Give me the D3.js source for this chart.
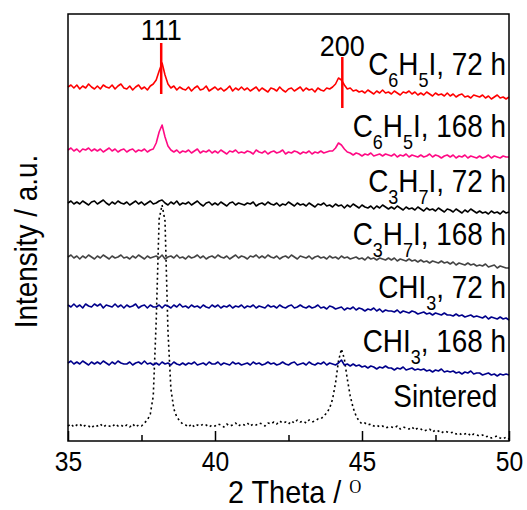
<!DOCTYPE html>
<meta charset="utf-8">
<style>
body { margin: 0; background: #fff; }
text { font-family: "Liberation Sans", Arial, sans-serif; fill: #000; }
.frame { fill: none; stroke: #000; stroke-width: 1.5px; }
.axis path { display: none; }
.axis line { stroke: #000; stroke-width: 1.5px; }
.trace { fill: none; stroke-width: 1.6px; stroke-linejoin: round; }
</style>
<body>
<div id="chart"></div>
<script src="https://cdn.jsdelivr.net/npm/d3@7"></script>
<script>
// 2 theta grid, 35..50 every 0.1 deg
var twoTheta = d3.range(151).map(function (i) { return +(35 + i / 10).toFixed(1); });

var names = ["C6H5I, 72 h", "C6H5I, 168 h", "C3H7I, 72 h", "C3H7I, 168 h", "CHI3, 72 h", "CHI3, 168 h", "Sintered"];
var colors = ["#ff0000", "#ff0a84", "#000000", "#444444", "#00008b", "#00008b", "#000000"];
var offsets = [354, 291, 238, 184, 135, 78, 15];

var c6h5i72 = [
  0,2,-1,2,-2,1,-1,3,0,-2,
  1,-2,2,0,-1,2,-2,1,3,-1,
  -2,1,-3,0,2,-2,0,-3,1,3,
  7,16,24,12,3,-1,1,-3,0,-2,
  -3,0,-4,-1,1,-3,-2,1,-4,-2,
  0,-3,-1,-4,-2,1,-4,-1,-3,0,
  -3,-1,-4,-2,0,-4,-1,-3,-5,-1,
  -2,-4,0,-3,-5,-2,-1,-4,-2,0,
  -4,-1,-3,-2,-5,-1,-3,-4,-1,-2,
  0,3,9,7,2,-2,-1,-4,-3,-5,
  -4,-6,-3,-5,-7,-4,-6,-3,-6,-5,
  -7,-4,-6,-8,-5,-6,-4,-7,-5,-8,
  -6,-8,-5,-7,-9,-6,-8,-7,-9,-6,
  -9,-7,-10,-8,-7,-10,-9,-11,-8,-9,
  -10,-8,-11,-9,-12,-10,-8,-11,-10,-12,
  -10];

var c6h5i168 = [
  0,2,-1,1,-2,1,0,2,-1,1,
  -1,1,-2,0,2,-1,1,-2,0,1,
  -2,0,1,-2,0,-1,1,-2,0,1,
  7,18,25,13,4,0,-2,0,-3,-1,
  -2,0,-3,-1,1,-3,-1,-2,0,-3,
  -1,-3,0,-2,-4,-1,-2,0,-3,-2,
  -3,-1,-2,-4,0,-2,-3,-1,-4,-2,
  -1,-3,-2,0,-4,-2,-3,-1,-2,-4,
  -2,-3,-1,-4,-2,-3,-1,-3,-2,-1,
  -1,2,7,5,1,-2,-3,-5,-3,-4,
  -6,-4,-5,-3,-6,-5,-4,-6,-4,-5,
  -6,-4,-7,-5,-6,-4,-7,-5,-6,-7,
  -5,-7,-6,-4,-7,-5,-6,-8,-6,-5,
  -7,-5,-8,-6,-7,-5,-8,-6,-7,-8,
  -6,-8,-7,-5,-8,-6,-7,-8,-6,-7,
  -7];

var c3h7i72 = [
  0,2,-1,1,-1,2,0,-2,1,2,
  -1,1,3,0,-2,1,-1,2,0,-1,
  1,-2,0,2,-1,1,-2,0,2,-1,
  0,2,3,0,-2,1,-1,2,-2,0,
  -1,1,-2,0,2,-1,-3,0,1,-2,
  0,-2,1,-1,-3,0,1,-2,0,-1,
  -2,0,-1,1,-3,-1,0,-2,1,-1,
  -2,0,-3,-1,-2,1,-1,-3,0,-2,
  -1,-3,0,-2,-4,-1,-2,0,-3,-2,
  -4,-1,-3,-2,-5,-2,-4,-1,-3,-5,
  -2,-4,-5,-3,-6,-3,-5,-2,-4,-6,
  -4,-6,-3,-5,-7,-4,-6,-5,-7,-4,
  -6,-8,-5,-7,-6,-8,-5,-7,-9,-6,
  -7,-9,-6,-8,-10,-7,-9,-6,-8,-10,
  -8,-10,-9,-11,-8,-10,-9,-11,-8,-10,
  -9];

var c3h7i168 = [
  0,2,-1,1,-2,1,-1,2,0,-2,
  1,-1,2,0,-2,1,-1,0,2,-1,
  0,-2,1,-1,2,0,-2,1,-1,0,
  1,-1,2,-2,0,1,-1,2,-1,0,
  -2,1,-1,0,2,-1,1,-2,0,1,
  -1,2,0,-1,1,-2,0,2,-1,1,
  0,-2,1,0,2,-1,1,-1,2,0,
  -1,1,-2,0,1,-1,2,0,-2,1,
  0,-1,1,-2,0,1,-1,0,-2,1,
  -1,0,-2,1,-1,0,-2,-1,0,-2,
  -1,-3,0,-2,-1,-3,-1,-2,-3,-1,
  -3,-1,-4,-2,-3,-4,-2,-4,-3,-5,
  -3,-5,-4,-6,-4,-5,-6,-4,-6,-5,
  -7,-5,-8,-6,-7,-8,-6,-8,-7,-9,
  -8,-9,-7,-10,-9,-8,-11,-9,-10,-11,
  -11];

var chi372 = [
  1,-1,2,-1,1,-2,2,0,-1,2,
  0,2,-2,1,0,-1,2,-1,1,-2,
  1,-1,0,2,-2,0,1,-2,1,-1,
  -1,1,-2,1,0,-2,1,-1,2,-1,
  0,-2,1,-1,0,-2,1,-1,-2,1,
  -1,1,-2,0,-1,1,-2,0,-1,1,
  -2,0,-1,1,-2,0,-1,-2,1,-1,
  0,-2,1,-1,-2,0,1,-2,-1,1,
  -1,-2,0,-2,-1,1,-2,-1,-3,0,
  -1,-3,-2,-1,-4,-2,-3,-1,-4,-2,
  -3,-5,-3,-4,-2,-5,-3,-6,-4,-5,
  -5,-6,-4,-7,-5,-6,-7,-5,-6,-8,
  -7,-6,-8,-7,-9,-7,-8,-9,-7,-9,
  -9,-10,-8,-10,-9,-11,-10,-9,-11,-10,
  -11,-12,-10,-13,-11,-12,-13,-11,-13,-12,
  -14];

var chi3168 = [
  0,2,-1,1,-1,2,0,-2,1,-1,
  1,-1,2,0,-2,1,-1,2,0,-1,
  -1,1,-2,0,1,-1,2,-1,0,-2,
  0,-2,1,-1,0,-2,1,-1,-2,0,
  -2,0,-1,1,-2,-1,0,-2,1,-1,
  -1,1,-2,0,-1,-2,1,-1,0,-2,
  -1,0,-2,1,-1,0,-2,-1,1,-1,
  0,-2,-1,1,-1,-2,0,1,-2,-1,
  0,-2,1,-1,-2,0,-1,1,-2,0,
  -1,-2,0,3,-2,-1,-3,-1,-3,-2,
  -4,-3,-5,-3,-4,-6,-4,-5,-3,-5,
  -5,-7,-5,-6,-4,-7,-6,-5,-7,-6,
  -7,-6,-8,-7,-9,-7,-8,-6,-9,-8,
  -9,-8,-10,-9,-11,-9,-10,-8,-11,-10,
  -10,-12,-11,-10,-12,-11,-13,-11,-12,-11,
  -12];

var sintered = [
  0,2,-1,1,2,-1,1,0,-2,1,
  0,2,-1,1,0,-1,2,0,1,-1,
  1,-1,2,-1,1,0,3,6,12,30,
  105,207,221,205,95,37,17,9,5,2,
  1,-1,2,-1,1,0,2,1,-1,1,
  0,2,1,-1,2,0,1,3,0,2,
  1,3,0,2,1,3,2,0,3,2,
  4,2,5,3,4,2,5,3,6,4,
  5,3,6,4,5,7,7,10,13,18,
  27,43,65,77,67,47,30,18,10,5,
  2,3,1,2,0,1,-1,0,-2,-1,
  -1,-2,0,-3,-1,-2,-3,-1,-4,-2,
  -3,-5,-4,-3,-6,-4,-5,-7,-5,-6,
  -7,-6,-8,-7,-9,-8,-7,-10,-8,-9,
  -10,-9,-11,-10,-12,-11,-10,-12,-13,-11,
  -13];

var seriesValues = [c6h5i72, c6h5i168, c3h7i72, c3h7i168, chi372, chi3168, sintered];

// label text pieces, second item 1 = subscript
var labelParts = [
  [["C"], ["6", 1], ["H"], ["5", 1], ["I, 72 h"]],
  [["C"], ["6", 1], ["H"], ["5", 1], ["I, 168 h"]],
  [["C"], ["3", 1], ["H"], ["7", 1], ["I, 72 h"]],
  [["C"], ["3", 1], ["H"], ["7", 1], ["I, 168 h"]],
  [["CHI"], ["3", 1], [", 72 h"]],
  [["CHI"], ["3", 1], [", 168 h"]],
  [["Sintered"]]
];
var labelX = [49.9, 49.9, 49.9, 49.9, 49.9, 49.9, 49.6];
var labelY = [366, 304, 249, 196, 143, 89, 34];

// reflection markers
var peakLabels = ["111", "200"];
var peakPos = [38.17, 44.33];
var peakTop = [398, 384];
var peakBottom = [347, 333];
var peakLabelY = [401, 385];

var xTicks = [35, 40, 45, 50];
var xMinorTicks = [37.5, 42.5, 47.5];

var margin = {top: 14, right: 18, bottom: 69, left: 68},
    width = 527 - margin.left - margin.right,
    height = 510 - margin.top - margin.bottom;

var squeeze = " scale(0.9,1)";

var svg = d3.select("#chart").append("svg")
    .attr("width", 527)
    .attr("height", 510)
  .append("g")
    .attr("transform", "translate(" + margin.left + "," + margin.top + ")");

var x = d3.scaleLinear().domain([35, 50]).range([0, width]);
var y = d3.scaleLinear().domain([0, 427]).range([height, 0]);

var line = d3.line()
    .x(function (d) { return x(d[0]); })
    .y(function (d) { return y(d[1]); });

// draw bottom trace first so the others sit on top of its peak
d3.range(seriesValues.length).reverse().forEach(function (s) {
  var pts = twoTheta.map(function (t, i) { return [t, offsets[s] + seriesValues[s][i]]; });
  svg.append("path")
      .datum(pts)
      .attr("class", "trace")
      .attr("d", line)
      .style("stroke", colors[s])
      .style("stroke-dasharray", s === 6 ? "2,3" : null);
});

// markers
peakPos.forEach(function (p, i) {
  svg.append("line")
      .attr("x1", x(p)).attr("x2", x(p))
      .attr("y1", y(peakTop[i])).attr("y2", y(peakBottom[i]))
      .style("stroke", "#ff0000")
      .style("stroke-width", "2.5px");
  svg.append("text")
      .attr("transform", "translate(" + x(p) + "," + y(peakLabelY[i]) + ")" + squeeze)
      .attr("text-anchor", "middle")
      .style("font-size", "30px")
      .text(peakLabels[i]);
});

// sample labels
labelParts.forEach(function (parts, i) {
  var t = svg.append("text")
      .attr("transform", "translate(" + x(labelX[i]) + "," + y(labelY[i]) + ")" + squeeze)
      .attr("text-anchor", "end")
      .style("font-size", "31px");
  var down = false;
  parts.forEach(function (p) {
    var sub = p.length > 1;
    var ts = t.append("tspan").text(p[0]);
    if (sub) {
      ts.attr("dy", 12).style("font-size", "20px");
      down = true;
    } else if (down) {
      ts.attr("dy", -12);
      down = false;
    }
  });
});

// axes
var xAxis = svg.append("g")
    .attr("class", "axis")
    .attr("transform", "translate(0," + height + ")")
    .call(d3.axisBottom(x).tickValues(xTicks).tickSize(-10).tickFormat(d3.format("d")));
xAxis.selectAll("text")
    .attr("y", 30)
    .attr("dy", 0)
    .attr("transform", "scale(0.88,1)")
    .style("font-size", "28px")
    .style("font-family", "'Liberation Sans', Arial, sans-serif")
    .style("fill", "#000");

svg.append("g")
    .attr("class", "axis")
    .attr("transform", "translate(0," + height + ")")
    .call(d3.axisBottom(x).tickValues(xMinorTicks).tickSize(-6).tickFormat(""));

svg.append("rect")
    .attr("class", "frame")
    .attr("width", width)
    .attr("height", height);

// axis titles
var xt = svg.append("text")
    .attr("transform", "translate(160," + (height + 62) + ") scale(0.93,1)")
    .style("font-size", "31px");
xt.append("tspan").text("2 Theta / ");
xt.append("tspan")
    .attr("dy", -10)
    .style("font-family", "'Liberation Serif', 'Times New Roman', serif")
    .style("font-size", "18px")
    .text("O");

svg.append("text")
    .attr("transform", "translate(" + (-31) + "," + (height / 2 + 14) + ") rotate(-90)" + squeeze)
    .attr("text-anchor", "middle")
    .style("font-size", "31px")
    .text("Intensity / a.u.");
</script>
